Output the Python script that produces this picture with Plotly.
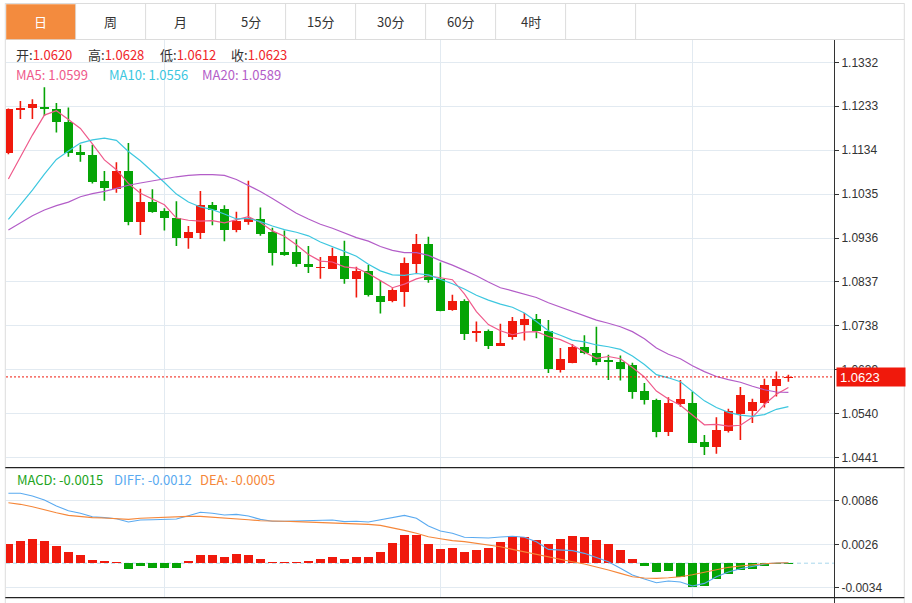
import plotly.graph_objects as go

# ---------------- data ----------------
open_px = [1.1127, 1.1225, 1.1230, 1.1232, 1.1227, 1.1198, 1.1130, 1.1122, 1.1064, 1.1046,
           1.1086, 1.0973, 1.1017, 1.0996, 1.0981, 1.0935, 1.0947, 1.1010, 1.1002, 1.0954,
           1.0971, 1.0979, 1.0949, 1.0905, 1.0904, 1.0877, 1.0868, 1.0866, 1.0895, 1.0843,
           1.0862, 1.0805, 1.0793, 1.0814, 1.0877, 1.0923, 1.0843, 1.0774, 1.0793, 1.0721,
           1.0726, 1.0693, 1.0713, 1.0740, 1.0753, 1.0726, 1.0639, 1.0655, 1.0691, 1.0678,
           1.0661, 1.0657, 1.0650, 1.0592, 1.0571, 1.0499, 1.0561, 1.0565, 1.0477, 1.0464,
           1.0500, 1.0540, 1.0546, 1.0564, 1.0602, 1.0620]
high_px = [1.1228, 1.1245, 1.1249, 1.1276, 1.1240, 1.1230, 1.1146, 1.1146, 1.1087, 1.1107,
           1.1150, 1.1047, 1.1046, 1.1003, 1.1019, 1.0963, 1.1042, 1.1017, 1.1010, 1.0995,
           1.1065, 1.1005, 1.0959, 1.0953, 1.0933, 1.0918, 1.0893, 1.0914, 1.0930, 1.0871,
           1.0875, 1.0840, 1.0823, 1.0892, 1.0945, 1.0939, 1.0881, 1.0808, 1.0798, 1.0748,
           1.0730, 1.0743, 1.0758, 1.0767, 1.0765, 1.0751, 1.0688, 1.0697, 1.0717, 1.0736,
           1.0673, 1.0671, 1.0655, 1.0609, 1.0574, 1.0577, 1.0616, 1.0590, 1.0492, 1.0532,
           1.0551, 1.0600, 1.0574, 1.0619, 1.0635, 1.0628]
low_px = [1.1125, 1.1204, 1.1204, 1.1211, 1.1174, 1.1119, 1.1108, 1.1059, 1.1020, 1.1038,
          1.0965, 1.0943, 1.0993, 1.0953, 1.0918, 1.0912, 1.0934, 1.0965, 1.0929, 1.0949,
          1.0966, 1.0941, 1.0874, 1.0896, 1.0871, 1.0857, 1.0844, 1.0866, 1.0833, 1.0802,
          1.0804, 1.0766, 1.0791, 1.0781, 1.0855, 1.0835, 1.0771, 1.0772, 1.0706, 1.0702,
          1.0686, 1.0693, 1.0707, 1.0705, 1.0710, 1.0632, 1.0633, 1.0654, 1.0674, 1.0649,
          1.0616, 1.0615, 1.0574, 1.0561, 1.0487, 1.0490, 1.0556, 1.0474, 1.0447, 1.0450,
          1.0498, 1.0481, 1.0519, 1.0554, 1.0579, 1.0612]
close_px = [1.1226, 1.1228, 1.1237, 1.1227, 1.1197, 1.1128, 1.1124, 1.1062, 1.1048, 1.1086,
            1.0973, 1.1017, 1.0995, 1.0982, 1.0936, 1.0949, 1.1010, 1.0999, 1.0954, 1.0974,
            1.0982, 1.0945, 1.0903, 1.0898, 1.0877, 1.0870, 1.0871, 1.0896, 1.0843, 1.0862,
            1.0808, 1.0791, 1.0818, 1.0880, 1.0923, 1.0841, 1.0771, 1.0794, 1.0720, 1.0726,
            1.0693, 1.0700, 1.0749, 1.0754, 1.0727, 1.0640, 1.0663, 1.0691, 1.0676, 1.0657,
            1.0656, 1.0641, 1.0590, 1.0570, 1.0499, 1.0565, 1.0573, 1.0474, 1.0464, 1.0504,
            1.0546, 1.0582, 1.0566, 1.0605, 1.0619, 1.0623]

ma5 = [1.1069, 1.1119, 1.1168, 1.1213, 1.1223, 1.1203, 1.1183, 1.1148, 1.1112, 1.1090,
       1.1059, 1.1037, 1.1024, 1.1011, 1.0981, 1.0976, 1.0974, 1.0975, 1.0970, 1.0977,
       1.0984, 1.0971, 1.0952, 1.0940, 1.0921, 1.0899, 1.0884, 1.0882, 1.0871, 1.0868,
       1.0856, 1.0840, 1.0824, 1.0832, 1.0844, 1.0851, 1.0847, 1.0842, 1.0810, 1.0770,
       1.0741, 1.0727, 1.0718, 1.0724, 1.0725, 1.0714, 1.0707, 1.0695, 1.0679, 1.0665,
       1.0669, 1.0664, 1.0644, 1.0623, 1.0591, 1.0573, 1.0559, 1.0536, 1.0515, 1.0516,
       1.0512, 1.0514, 1.0532, 1.0561, 1.0584, 1.0599]
ma10 = [1.0978, 1.1011, 1.1044, 1.1080, 1.1113, 1.1132, 1.1150, 1.1157, 1.1161, 1.1156,
        1.1131, 1.1110, 1.1086, 1.1061, 1.1035, 1.1017, 1.1006, 1.1000, 1.0990, 1.0979,
        1.0980, 1.0973, 1.0963, 1.0955, 1.0949, 1.0941, 1.0927, 1.0917, 1.0906, 1.0895,
        1.0877, 1.0862, 1.0853, 1.0852, 1.0856, 1.0853, 1.0843, 1.0833, 1.0821, 1.0807,
        1.0796, 1.0787, 1.0780, 1.0767, 1.0748, 1.0727, 1.0717, 1.0706, 1.0702, 1.0695,
        1.0691, 1.0685, 1.0670, 1.0651, 1.0628, 1.0621, 1.0612, 1.0590, 1.0569, 1.0554,
        1.0543, 1.0537, 1.0534, 1.0538, 1.0550, 1.0556]
ma20 = [1.0954, 1.0971, 1.0986, 1.0999, 1.1009, 1.1017, 1.1029, 1.1036, 1.1041, 1.1048,
        1.1055, 1.1060, 1.1065, 1.1070, 1.1074, 1.1077, 1.1079, 1.1079, 1.1077, 1.1068,
        1.1055, 1.1041, 1.1025, 1.1008, 1.0992, 1.0979, 1.0967, 1.0958, 1.0948, 1.0937,
        1.0929, 1.0917, 1.0908, 1.0903, 1.0903, 1.0897, 1.0885, 1.0875, 1.0863, 1.0851,
        1.0837, 1.0824, 1.0817, 1.0809, 1.0802, 1.0790, 1.0780, 1.0770, 1.0761, 1.0751,
        1.0744, 1.0736, 1.0725, 1.0709, 1.0688, 1.0674, 1.0664, 1.0648, 1.0635, 1.0624,
        1.0617, 1.0611, 1.0602, 1.0594, 1.0589, 1.0588]

macd_hist = [0.00261, 0.00310, 0.00334, 0.00306, 0.00237, 0.00150, 0.00113, 0.00044, 0.00030, 0.00021,
             -0.00084, -0.00034, -0.00062, -0.00062, -0.00062, 0.00030, 0.00113, 0.00109, 0.00086, 0.00123,
             0.00109, 0.00058, 0.00017, 0.00017, 0.00017, 0.00030, 0.00058, 0.00086, 0.00058, 0.00086,
             0.00081, 0.00154, 0.00279, 0.00389, 0.00393, 0.00269, 0.00200, 0.00210, 0.00150, 0.00186,
             0.00210, 0.00288, 0.00371, 0.00366, 0.00320, 0.00265, 0.00334, 0.00375, 0.00357, 0.00316,
             0.00261, 0.00178, 0.00054, -0.00034, -0.00126, -0.00108, -0.00195, -0.00324, -0.00310, -0.00218,
             -0.00145, -0.00094, -0.00080, -0.00034, -0.00015, -0.00005]
diff_line = [0.00964, 0.00964, 0.00927, 0.00872, 0.00789, 0.00724, 0.00688, 0.00641, 0.00628, 0.00614,
             0.00568, 0.00596, 0.00600, 0.00605, 0.00610, 0.00655, 0.00702, 0.00688, 0.00665, 0.00674,
             0.00651, 0.00605, 0.00578, 0.00578, 0.00582, 0.00586, 0.00596, 0.00596, 0.00573, 0.00578,
             0.00568, 0.00596, 0.00633, 0.00660, 0.00619, 0.00513, 0.00444, 0.00412, 0.00357, 0.00352,
             0.00348, 0.00361, 0.00371, 0.00357, 0.00297, 0.00191, 0.00182, 0.00173, 0.00136, 0.00076,
             0.00021, -0.00071, -0.00163, -0.00218, -0.00269, -0.00246, -0.00259, -0.00315, -0.00278, -0.00186,
             -0.00122, -0.00076, -0.00039, -0.00011, 0.00003, 0.00007]
dea_line = [0.00834, 0.00812, 0.00779, 0.00743, 0.00697, 0.00660, 0.00641, 0.00628, 0.00623, 0.00614,
            0.00605, 0.00619, 0.00628, 0.00633, 0.00641, 0.00646, 0.00646, 0.00637, 0.00623, 0.00610,
            0.00600, 0.00586, 0.00578, 0.00578, 0.00573, 0.00568, 0.00564, 0.00559, 0.00554, 0.00545,
            0.00536, 0.00522, 0.00490, 0.00453, 0.00412, 0.00366, 0.00338, 0.00311, 0.00297, 0.00274,
            0.00251, 0.00228, 0.00191, 0.00155, 0.00122, 0.00090, 0.00053, 0.00021, -0.00011, -0.00048,
            -0.00094, -0.00140, -0.00186, -0.00204, -0.00209, -0.00200, -0.00186, -0.00159, -0.00122, -0.00085,
            -0.00057, -0.00039, -0.00021, -0.00007, 0.00003, 0.00007]

price_ticks = [1.0441, 1.0540, 1.0639, 1.0738, 1.0837, 1.0936, 1.1035, 1.1134, 1.1233, 1.1332]
macd_ticks = [-0.0034, 0.0026, 0.0086]
month_grid = [13, 36, 57]
tab_labels = ["日", "周", "月", "5分", "15分", "30分", "60分", "4时"]

info_ohlc = [("开:", "1.0620"), ("高:", "1.0628"), ("低:", "1.0612"), ("收:", "1.0623")]
info_ma = [("MA5: 1.0599", "#EF5A8B"), ("MA10: 1.0556", "#3DC7DF"), ("MA20: 1.0589", "#B35DC8")]
info_macd = [("MACD: -0.0015", "#22A422"), ("DIFF: -0.0012", "#5AAAF0"), ("DEA: -0.0005", "#F5873A")]

# ---------------- styling ----------------
RED = "#F0190C"
GREEN = "#05A405"
GRID = "#E2EAF1"
CJK = "Noto Sans CJK SC, Microsoft YaHei, sans-serif"
NUMF = "Liberation Sans, Arial, sans-serif"

W, H = 912, 603
L, R, T, B = 6, 834, 40, 598  # plot area in pixels


def px(x):
    return (x - L) / (R - L)


def py(y):
    return (B - y) / (B - T)


idx = list(range(len(close_px)))

fig = go.Figure()

# wicks
for colr, cond in ((RED, lambda o, c: c >= o), (GREEN, lambda o, c: c < o)):
    xs, ys = [], []
    for i in idx:
        if cond(open_px[i], close_px[i]):
            xs += [i, i, None]
            ys += [low_px[i], high_px[i], None]
    fig.add_trace(go.Scatter(x=xs, y=ys, mode="lines", line=dict(color=colr, width=1.6),
                             hoverinfo="skip", showlegend=False, xaxis="x", yaxis="y"))

# bodies
up_i = [i for i in idx if close_px[i] >= open_px[i]]
dn_i = [i for i in idx if close_px[i] < open_px[i]]
fig.add_trace(go.Bar(x=up_i, base=[open_px[i] for i in up_i],
                     y=[close_px[i] - open_px[i] for i in up_i],
                     width=0.7, marker=dict(color=RED, line=dict(width=0)),
                     hoverinfo="skip", showlegend=False, xaxis="x", yaxis="y"))
fig.add_trace(go.Bar(x=dn_i, base=[close_px[i] for i in dn_i],
                     y=[open_px[i] - close_px[i] for i in dn_i],
                     width=0.7, marker=dict(color=GREEN, line=dict(width=0)),
                     hoverinfo="skip", showlegend=False, xaxis="x", yaxis="y"))

# moving averages
for arr, colr in ((ma5, "#EF5A8B"), (ma10, "#3DC7DF"), (ma20, "#B35DC8")):
    fig.add_trace(go.Scatter(x=idx, y=arr, mode="lines", line=dict(color=colr, width=1.2),
                             hoverinfo="skip", showlegend=False, xaxis="x", yaxis="y"))

# MACD histogram and lines
fig.add_trace(go.Bar(x=idx, y=macd_hist, width=0.7,
                     marker=dict(color=[RED if v >= 0 else GREEN for v in macd_hist], line=dict(width=0)),
                     hoverinfo="skip", showlegend=False, xaxis="x2", yaxis="y2"))
fig.add_trace(go.Scatter(x=idx, y=diff_line, mode="lines", line=dict(color="#5AAAF0", width=1.1),
                         hoverinfo="skip", showlegend=False, xaxis="x2", yaxis="y2"))
fig.add_trace(go.Scatter(x=idx, y=dea_line, mode="lines", line=dict(color="#F5873A", width=1.1),
                         hoverinfo="skip", showlegend=False, xaxis="x2", yaxis="y2"))

xr = [(L - 8.4) / 12.0, (R - 8.4) / 12.0]
main_bottom = py(467.7)
p_per_px = 0.0099 / 43.93
y_top = 1.1332 + (62.3 - T) * p_per_px
y_bot = 1.1332 - (467.7 - 62.3) * p_per_px
m_per_px = 0.006 / 43.5
m_top = (563.2 - 467.7) * m_per_px
m_bot = (563.2 - B) * m_per_px

axis_common = dict(showline=False, zeroline=False, fixedrange=True)
fig.update_layout(
    width=W, height=H, autosize=False,
    margin=dict(l=L, r=W - R, t=T, b=H - B, pad=0),
    paper_bgcolor="white", plot_bgcolor="white",
    barmode="overlay", bargap=0,
    showlegend=False,
    xaxis=dict(domain=[0, 1], anchor="y", range=xr, tickvals=month_grid, showticklabels=False,
               ticks="", showgrid=True, gridcolor=GRID, gridwidth=1, **axis_common),
    xaxis2=dict(domain=[0, 1], anchor="y2", range=xr, tickvals=month_grid, showticklabels=False,
                ticks="", showgrid=True, gridcolor=GRID, gridwidth=1, matches="x", **axis_common),
    yaxis=dict(domain=[main_bottom, 1], anchor="x", side="right", range=[y_bot, y_top],
               tickvals=price_ticks, ticktext=[f"{v:.4f}" for v in price_ticks],
               ticks="outside", ticklen=4, tickcolor="#333", tickwidth=1,
               tickfont=dict(family=NUMF, size=12, color="#333"),
               showgrid=True, gridcolor=GRID, gridwidth=1, **axis_common),
    yaxis2=dict(domain=[0, main_bottom], anchor="x2", side="right", range=[m_bot, m_top],
                tickvals=macd_ticks, ticktext=[f"{v:.4f}" for v in macd_ticks],
                ticks="outside", ticklen=4, tickcolor="#333", tickwidth=1,
                tickfont=dict(family=NUMF, size=12, color="#333"),
                showgrid=True, gridcolor=GRID, gridwidth=1, **axis_common),
)

shapes = []
# MACD zero line (dashed, light blue)
shapes.append(dict(type="line", xref="x2 domain", yref="y2", x0=0, x1=1, y0=0, y1=0,
                   line=dict(color="#A9D7EC", width=1, dash="4px,3px"), layer="below"))
# last price dotted line
shapes.append(dict(type="line", xref="x domain", yref="y", x0=0, x1=1,
                   y0=close_px[-1], y1=close_px[-1],
                   line=dict(color=RED, width=1, dash="2px,2px"), layer="above"))
# frame lines
LIGHT = "#DCDCDC"
shapes += [
    dict(type="line", xref="paper", yref="paper", x0=px(5.3), x1=px(5.3), y0=py(3.3), y1=py(603),
         line=dict(color=LIGHT, width=1)),
    dict(type="line", xref="paper", yref="paper", x0=px(904.3), x1=px(904.3), y0=py(3.3), y1=py(603),
         line=dict(color=LIGHT, width=1)),
    dict(type="line", xref="paper", yref="paper", x0=px(5.3), x1=px(904.3), y0=py(3.5), y1=py(3.5),
         line=dict(color=LIGHT, width=1)),
    dict(type="line", xref="paper", yref="paper", x0=px(5.3), x1=px(904.3), y0=py(39.5), y1=py(39.5),
         line=dict(color=LIGHT, width=1)),
    # right axis line
    dict(type="line", xref="paper", yref="paper", x0=px(834.5), x1=px(834.5), y0=py(40), y1=py(603),
         line=dict(color="#333333", width=1)),
    # panel separators
    dict(type="line", xref="paper", yref="paper", x0=px(5.3), x1=px(904.3), y0=py(467.7), y1=py(467.7),
         line=dict(color="#222222", width=1.2)),
    dict(type="line", xref="paper", yref="paper", x0=px(5.3), x1=px(904.3), y0=py(597.7), y1=py(597.7),
         line=dict(color="#222222", width=1.2)),
]
# tabs
tab_w = 70.0
tab_x0 = 5.6
for k in range(len(tab_labels) + 1):
    xb = tab_x0 + tab_w * (k + 1)
    shapes.append(dict(type="line", xref="paper", yref="paper", x0=px(xb), x1=px(xb),
                       y0=py(3.5), y1=py(39.5), line=dict(color=LIGHT, width=1)))
shapes.append(dict(type="rect", xref="paper", yref="paper", x0=px(6.2), x1=px(75.2),
                   y0=py(39.2), y1=py(4.2), fillcolor="#F38B3E", line=dict(width=0)))
fig.update_layout(shapes=shapes)

ann = []
for k, lab in enumerate(tab_labels):
    cx = tab_x0 + tab_w * k + tab_w / 2
    ann.append(dict(xref="paper", yref="paper", x=px(cx), y=py(21.8), text=lab, showarrow=False,
                    xanchor="center", yanchor="middle",
                    font=dict(family=CJK, size=13, color="white" if k == 0 else "#333333")))

ohlc_x = [15.0, 87.3, 158.8, 229.8]
for (lab, val), x in zip(info_ohlc, ohlc_x):
    ann.append(dict(xref="paper", yref="paper", x=px(x), y=py(54.8), showarrow=False,
                    xanchor="left", yanchor="middle", borderpad=0,
                    text=f"{lab}<span style='color:#F0262A'>{val}</span>",
                    font=dict(family=CJK, size=13, color="#333333")))
ma_x = [15.0, 108.3, 201.0]
for (txt, colr), x in zip(info_ma, ma_x):
    ann.append(dict(xref="paper", yref="paper", x=px(x), y=py(74.2), showarrow=False,
                    xanchor="left", yanchor="middle", borderpad=0, text=txt,
                    font=dict(family=CJK, size=13, color=colr)))
macd_x = [16.3, 113.0, 198.8]
for (txt, colr), x in zip(info_macd, macd_x):
    ann.append(dict(xref="paper", yref="paper", x=px(x), y=py(479.8), showarrow=False,
                    xanchor="left", yanchor="middle", borderpad=0, text=txt,
                    font=dict(family=CJK, size=13, color=colr)))
# last price label
ann.append(dict(xref="paper", yref="y", x=px(836), y=close_px[-1], showarrow=False,
                xanchor="left", yanchor="middle", text=f"{close_px[-1]:.4f}",
                width=62, height=12, borderpad=3, align="left", bgcolor=RED,
                font=dict(family=NUMF, size=13, color="white")))
fig.update_layout(annotations=ann)

fig.write_html("out.html", include_plotlyjs=True, full_html=True,
               config={"displayModeBar": False, "staticPlot": True},
               post_script="document.body.style.margin='0';document.body.style.overflow='hidden';")
